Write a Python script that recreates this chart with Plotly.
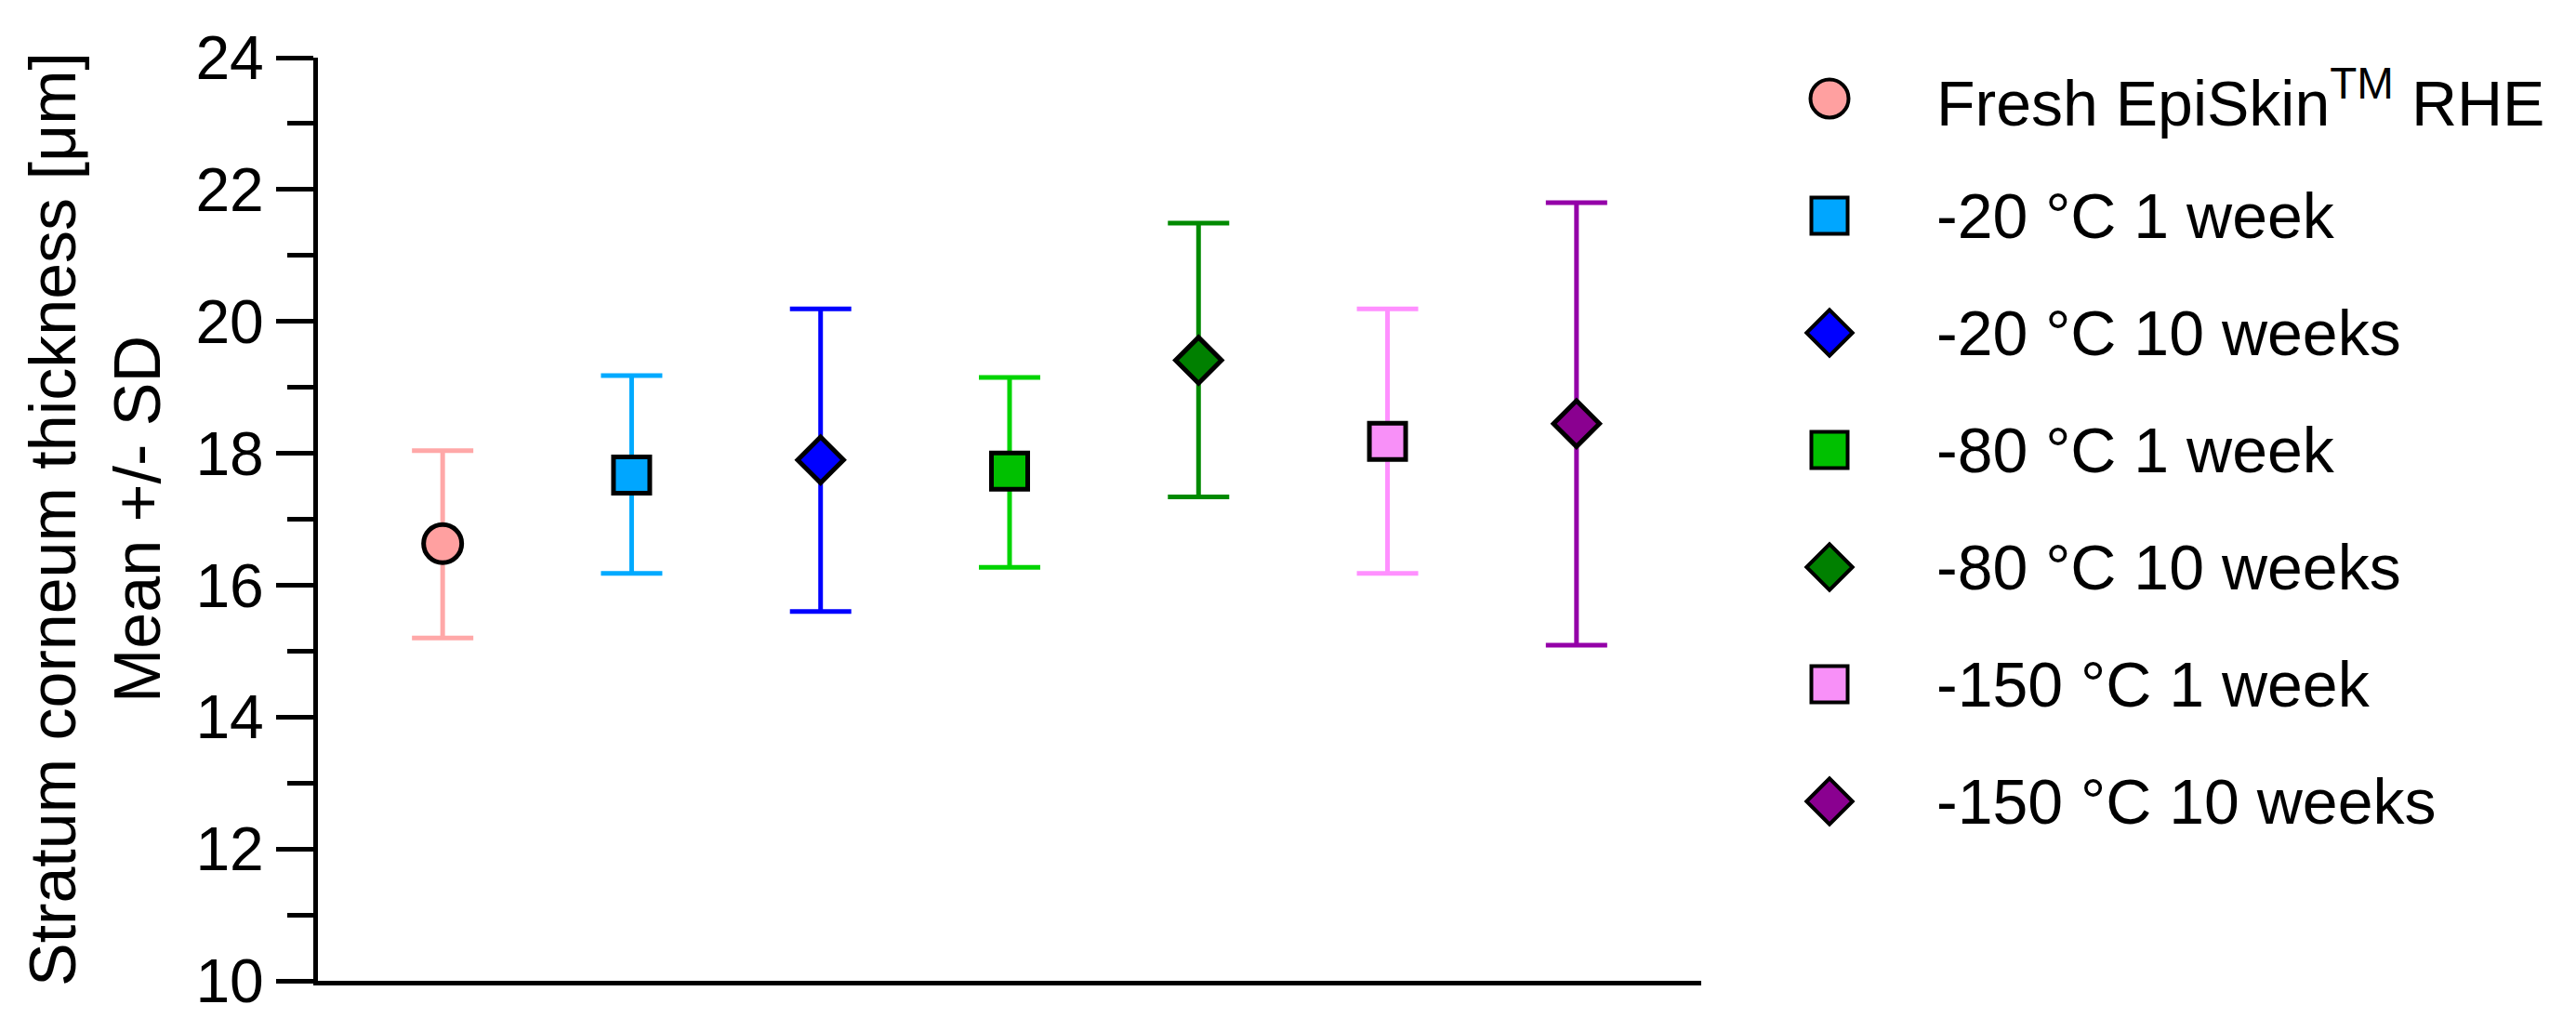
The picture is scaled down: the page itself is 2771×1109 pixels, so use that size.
import plotly.graph_objects as go

# ---------------- data ----------------
groups = [
    "Fresh EpiSkin<sup>TM</sup> RHE",
    "-20 °C 1 week",
    "-20 °C 10 weeks",
    "-80 °C 1 week",
    "-80 °C 10 weeks",
    "-150 °C 1 week",
    "-150 °C 10 weeks",
]
means = [16.63, 17.67, 17.90, 17.73, 19.41, 18.18, 18.45]
upper = [18.04, 19.18, 20.19, 19.15, 21.49, 20.19, 21.80]
lower = [15.20, 16.18, 15.60, 16.27, 17.34, 16.18, 15.09]
y_ticks = [10, 12, 14, 16, 18, 20, 22, 24]
y_minor = [11, 13, 15, 17, 19, 21, 23]

# ---------------- styles ----------------
symbols = ["circle", "square", "diamond", "square", "diamond", "square", "diamond"]
sizes = {"circle": 41, "square": 39, "diamond": 38}
fill_colors = ["#FFA0A0", "#00A6FF", "#0000FF", "#00C000", "#008000", "#F890F8", "#8A0090"]
bar_colors = ["#FFA8A8", "#00AAFF", "#0000FF", "#00D400", "#008A00", "#FF90FF", "#9400A8"]

FONT = "Liberation Sans, Arial, sans-serif"
W, H = 2771, 1109
ML, MR, MT, MB = 342, 0, 62, 54
plot_w = W - ML - MR
main_right = 1830
main_domain_end = (main_right - ML) / plot_w
leg_left = 1921
leg_domain_start = (leg_left - ML) / plot_w
leg_marker_px = 1968
leg_text_px = 2081
row0_px, row_step = 106, 126

fig = go.Figure()

for i, name in enumerate(groups):
    fig.add_trace(go.Scatter(
        x=[i], y=[means[i]],
        mode="markers",
        name=name,
        showlegend=False,
        marker=dict(symbol=symbols[i], size=sizes[symbols[i]], color=fill_colors[i],
                    line=dict(color="black", width=5)),
        error_y=dict(type="data", symmetric=False,
                     array=[upper[i] - means[i]],
                     arrayminus=[means[i] - lower[i]],
                     color=bar_colors[i], thickness=5, width=33),
        xaxis="x", yaxis="y",
    ))

# manual legend (markers via a hidden axis pair, text via annotations)
for i, name in enumerate(groups):
    fig.add_trace(go.Scatter(
        x=[0], y=[i], mode="markers", showlegend=False, hoverinfo="skip",
        marker=dict(symbol=symbols[i], size=sizes[symbols[i]], color=fill_colors[i],
                    line=dict(color="black", width=4)),
        xaxis="x2", yaxis="y2",
    ))
    fig.add_annotation(
        x=leg_text_px - leg_marker_px, y=i, xref="x2", yref="y2",
        text=name, showarrow=False, xanchor="left", yanchor="middle",
        font=dict(family=FONT, size=68, color="black"),
    )

top_idx = (MT - row0_px) / row_step
bot_idx = (H - MB - row0_px) / row_step

fig.update_layout(
    width=W, height=H,
    margin=dict(l=ML, r=MR, t=MT, b=MB, pad=0),
    paper_bgcolor="white", plot_bgcolor="white",
    font=dict(family=FONT, size=64, color="black"),
    showlegend=False,
    xaxis=dict(
        domain=[0, main_domain_end], range=[-0.66, len(groups) - 1 + 0.66],
        showline=True, linewidth=5, linecolor="black",
        showticklabels=False, ticks="", showgrid=False, zeroline=False,
    ),
    yaxis=dict(
        range=[y_ticks[0], y_ticks[-1]], tickvals=y_ticks,
        ticks="outside", ticklen=40, tickwidth=5, tickcolor="black",
        showline=True, linewidth=5, linecolor="black",
        showgrid=False, zeroline=False,
        tickfont=dict(family=FONT, size=66, color="black"),
        ticklabelstandoff=0,
        minor=dict(tickvals=y_minor, ticks="outside", ticklen=28, tickwidth=5,
                   tickcolor="black", showgrid=False),
        title=dict(text="Stratum corneum thickness [μm]<br>Mean +/- SD",
                   font=dict(family=FONT, size=70, color="black"), standoff=16),
    ),
    xaxis2=dict(
        domain=[leg_domain_start, 1], anchor="y2",
        range=[leg_left - leg_marker_px, W - leg_marker_px],
        visible=False,
    ),
    yaxis2=dict(
        domain=[0, 1], anchor="x2",
        range=[bot_idx, top_idx],
        visible=False,
    ),
)

fig.write_html("out.html", config={"displayModeBar": False},
               post_script="document.body.style.margin='0px';")
